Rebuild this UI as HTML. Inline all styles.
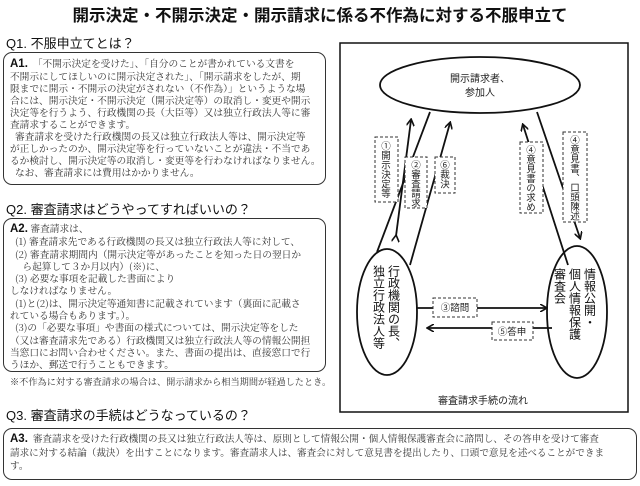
<!DOCTYPE html>
<html><head><meta charset="utf-8"><style>
body{margin:0;width:640px;height:486px;background:#fff;font-family:"Liberation Sans","Noto Serif CJK SC","Noto Sans CJK JP",serif;color:#222;position:relative;overflow:hidden}
.abs{position:absolute}
.h{font-family:"Liberation Sans","Noto Sans CJK JP",sans-serif;font-size:13px;color:#111}
.box{position:absolute;border:1.5px solid #333;border-radius:9px}
.t{position:absolute;font-size:9.7px;line-height:12px;white-space:pre;font-family:"Noto Serif CJK JP","Noto Sans CJK JP",serif;color:#333}
.t b{font-family:"Liberation Sans",sans-serif;font-size:11.5px;color:#111}
svg text{font-family:"Noto Sans CJK JP",sans-serif}
</style></head><body>
<div class="abs" style="left:0;width:640px;top:2px;text-align:center;font-family:'Noto Sans CJK JP',sans-serif;font-weight:bold;font-size:16.5px;color:#111">開示決定・不開示決定・開示請求に係る不作為に対する不服申立て</div>
<div class="abs h" style="left:6px;top:33px">Q1. 不服申立てとは？</div>
<div class="box" style="left:3px;top:52px;width:321px;height:131px"></div>
<div class="t" style="left:10px;top:57px"><b>A1.</b>  「不開示決定を受けた」、「自分のことが書かれている文書を
不開示にしてほしいのに開示決定された」、「開示請求をしたが、期
限までに開示・不開示の決定がされない（不作為）」というような場
合には、開示決定・不開示決定（開示決定等）の取消し・変更や開示
決定等を行うよう、行政機関の長（大臣等）又は独立行政法人等に審
査請求することができます。
  審査請求を受けた行政機関の長又は独立行政法人等は、開示決定等
が正しかったのか、開示決定等を行っていないことが違法・不当であ
るか検討し、開示決定等の取消し・変更等を行わなければなりません。
  なお、審査請求には費用はかかりません。</div>
<div class="abs h" style="left:6px;top:199px">Q2. 審査請求はどうやってすればいいの？</div>
<div class="box" style="left:3px;top:218px;width:321px;height:152px"></div>
<div class="t" style="left:10px;top:222px;line-height:12.3px"><b>A2.</b> 審査請求は、
  (1) 審査請求先である行政機関の長又は独立行政法人等に対して、
  (2) 審査請求期間内（開示決定等があったことを知った日の翌日か
     ら起算して３か月以内）(※)に、
  (3) 必要な事項を記載した書面により
しなければなりません。
  (1)と(2)は、開示決定等通知書に記載されています（裏面に記載さ
れている場合もあります。）。
  (3)の「必要な事項」や書面の様式については、開示決定等をした
（又は審査請求先である）行政機関又は独立行政法人等の情報公開担
当窓口にお問い合わせください。また、書面の提出は、直接窓口で行
うほか、郵送で行うこともできます。</div>
<div class="t" style="left:10px;top:375px;font-size:9.2px">※不作為に対する審査請求の場合は、開示請求から相当期間が経過したとき。</div>
<div class="abs h" style="left:6px;top:405px">Q3. 審査請求の手続はどうなっているの？</div>
<div class="box" style="left:3px;top:428px;width:632px;height:50px"></div>
<div class="t" style="left:10px;top:432px;font-size:9.6px;line-height:13px"><b>A3.</b>  審査請求を受けた行政機関の長又は独立行政法人等は、原則として情報公開・個人情報保護審査会に諮問し、その答申を受けて審査
請求に対する結論（裁決）を出すことになります。審査請求人は、審査会に対して意見書を提出したり、口頭で意見を述べることができま
す。</div>
<svg class="abs" style="left:0;top:0" width="640" height="486">
<defs><marker id="a" markerWidth="8" markerHeight="8" refX="6" refY="4" orient="auto" markerUnits="userSpaceOnUse"><path d="M0,0 L7,4 L0,8" fill="none" stroke="#111" stroke-width="1.6"/></marker></defs>
<rect x="340" y="43" width="288" height="369" fill="none" stroke="#111" stroke-width="1.5"/>
<g stroke="#111" stroke-width="1.8" fill="none">
<ellipse cx="480" cy="85" rx="100" ry="28"/>
<ellipse cx="387" cy="312" rx="30" ry="63"/>
<ellipse cx="577" cy="312" rx="30" ry="66"/>
<line x1="430" y1="112" x2="377" y2="252"/>
<line x1="396" y1="236" x2="411" y2="120" marker-start="url(#a)" marker-end="url(#a)"/>
<line x1="410" y1="265" x2="450" y2="123" marker-end="url(#a)"/>
<line x1="568" y1="265" x2="523" y2="125" marker-end="url(#a)"/>
<line x1="537" y1="112" x2="580" y2="238" marker-end="url(#a)"/>
<line x1="417" y1="308" x2="546" y2="308" marker-end="url(#a)"/>
<line x1="552" y1="328" x2="428" y2="328" marker-end="url(#a)"/>
</g>
<g stroke="#333" stroke-width="1" stroke-dasharray="3,2" fill="#fff">
<rect x="375" y="137" width="23" height="65"/>
<rect x="405" y="157" width="22" height="51"/>
<rect x="435" y="157" width="20" height="36"/>
<rect x="520" y="142" width="23" height="71"/>
<rect x="563" y="132" width="24" height="90"/>
<rect x="433" y="298" width="44" height="19"/>
<rect x="492" y="322" width="41" height="18"/>
</g>
<g font-size="10" fill="#222" text-anchor="middle">
<text x="480" y="82">開示請求者、</text><text x="480" y="96">参加人</text>
<text x="455" y="311" font-size="9.5">③諮問</text>
<text x="512" y="335" font-size="9.5">⑤答申</text>
<text x="483" y="404">審査請求手続の流れ</text>
</g>
<g font-size="9.5" fill="#222">
<text x="386" y="141" style="writing-mode:vertical-rl">①開示決定等</text>
<text x="416" y="160" style="writing-mode:vertical-rl">②審査請求</text>
<text x="445" y="160" style="writing-mode:vertical-rl">⑥裁決</text>
<text x="531" y="145" style="writing-mode:vertical-rl">④意見書の求め</text>
<text x="575" y="135" style="writing-mode:vertical-rl">④意見書、口頭陳述</text>
</g>
<g font-size="12" fill="#111">
<text x="394" y="265" style="writing-mode:vertical-rl">行政機関の長、</text>
<text x="379" y="265" style="writing-mode:vertical-rl">独立行政法人等</text>
<text x="590" y="268" style="writing-mode:vertical-rl">情報公開・</text>
<text x="575" y="268" style="writing-mode:vertical-rl">個人情報保護</text>
<text x="560" y="268" style="writing-mode:vertical-rl">審査会</text>
</g>
</svg>
</body></html>
